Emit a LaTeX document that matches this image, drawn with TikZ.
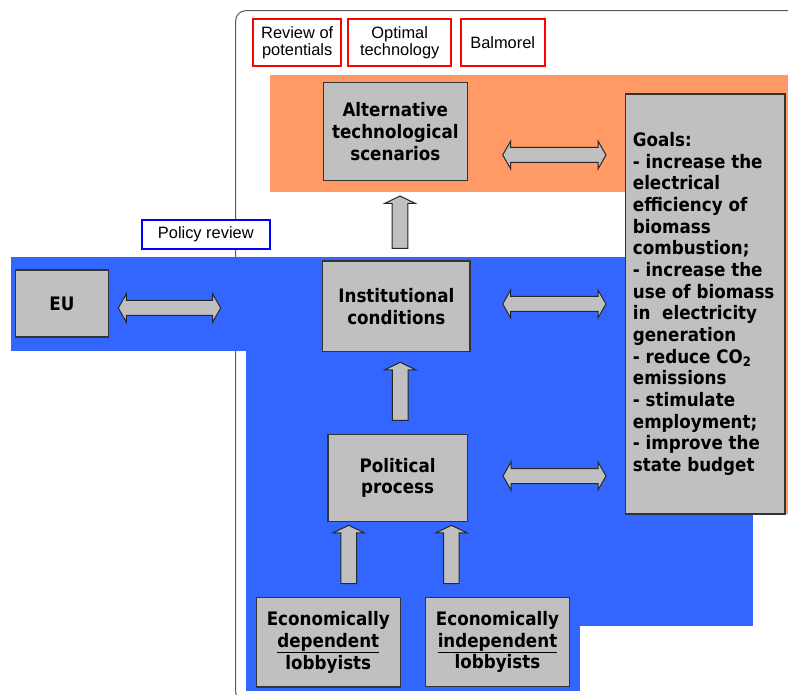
\documentclass[tikz,border=0pt]{standalone}
\usepackage{fontspec}
\setmainfont{Liberation Sans}
\newfontfamily\boxfont[FakeStretch=0.9]{DejaVu Sans}
\usetikzlibrary{calc}

\definecolor{regionblue}{HTML}{3366FF}
\definecolor{regionorange}{HTML}{FF9966}
\definecolor{boxgray}{HTML}{C0C0C0}
\definecolor{toolred}{HTML}{FF0000}
\definecolor{toolblue}{HTML}{0000FF}

% horizontal two-headed block arrow between two points on one line
\newcommand\blockboth[2]{%
  \path[blockarrow] let \p1=(#1), \p2=(#2) in
    (\x1,\y1) -- (\x1+8pt,\y1+14pt) -- (\x1+8pt,\y1+7.5pt) -- (\x2-8pt,\y1+7.5pt)
    -- (\x2-8pt,\y1+14pt) -- (\x2,\y1) -- (\x2-8pt,\y1-14pt) -- (\x2-8pt,\y1-7.5pt)
    -- (\x1+8pt,\y1-7.5pt) -- (\x1+8pt,\y1-14pt) -- cycle;}
% upward block arrow from a base point to a tip point
\newcommand\blockup[2]{%
  \path[blockarrow] let \p1=(#1), \p2=(#2) in
    (\x2,\y2) -- (\x2+15.5pt,\y2-7.5pt) -- (\x2+7.8pt,\y2-7.5pt) -- (\x2+7.8pt,\y1)
    -- (\x2-7.8pt,\y1) -- (\x2-7.8pt,\y2-7.5pt) -- (\x2-15.5pt,\y2-7.5pt) -- cycle;}

\begin{document}
\begin{tikzpicture}[x=1pt,y=-1pt,
  gbox/.style={draw=black!80, line width=1.1pt, fill=boxgray, inner sep=0pt, outer sep=0pt,
    align=center, font=\boxfont\bfseries\fontsize{18.6}{21.6}\selectfont},
  goalstext/.style={inner sep=0pt, align=left,
    font=\boxfont\bfseries\fontsize{18.6}{21.65}\selectfont},
  toolbox/.style={draw=toolred, line width=2pt, fill=white, inner sep=0pt, align=center,
    font=\fontsize{16.4}{16.8}\selectfont},
  reviewbox/.style={draw=toolblue, line width=2pt, fill=white, inner sep=0pt, align=center,
    font=\fontsize{16.4}{16.8}\selectfont},
  blockarrow/.style={draw=black!85, line width=1pt, fill=boxgray, line join=miter},
  frame/.style={draw=black!65, line width=1pt, rounded corners=10pt}]

\useasboundingbox (0,0) rectangle (788,695);

% outer frame
\begin{scope}
  \clip (0,0) rectangle (788,695);
  \draw[frame] (235.7,10.7) rectangle (830,702);
\end{scope}

% orange band (technology level)
\fill[regionorange] (270,75) rectangle (788,191.7);
% blue band (policy level)
\fill[regionblue] (11,257) rectangle (700,350.7);
\fill[regionblue] (246,257) rectangle (753,625.7);
\fill[regionblue] (246,620) rectangle (580,690.7);
% orange strip behind the goals box
\fill[regionorange] (700,75) rectangle (788,514);

% tool labels
\node[toolbox, minimum width=87.7, minimum height=46.7] (potentials) at (297.2,42.7) {Review of\\potentials};
\node[toolbox, minimum width=102.7, minimum height=46.7] (opttech) at (399.7,42.7) {Optimal\\technology};
\node[toolbox, minimum width=84, minimum height=46.7] (balmorel) at (502.7,42.7) {Balmorel};
\node[reviewbox, minimum width=128.3, minimum height=28.7] (policy) at (205.8,234.4) {Policy review};

% main boxes
\node[gbox, minimum width=144, minimum height=97.6] (alt) at (395.3,131.5) {Alternative\\technological\\scenarios};
\node[gbox, minimum width=147.3, minimum height=90.7] (inst) at (396.35,306.35) {Institutional\\conditions};
\node[gbox, minimum width=139.3, minimum height=87] (pol) at (397.65,477.8) {Political\\process};
\node[gbox, minimum width=144, minimum height=89.3] (dep) at (328.3,642.35) {Economically\\\underline{dependent}\\lobbyists};
\node[gbox, minimum width=144.4, minimum height=89.4] (indep) at (497.5,642) {Economically\\\underline{independent}\\lobbyists};
\node[gbox, minimum width=92.6, minimum height=67] (eu) at (62,303.5) {EU};
\node[gbox, minimum width=159.7, minimum height=420] (goals) at (705.15,304) {};
\node[goalstext, anchor=west] (goalslabel) at ($(goals.west)+(7.4,0)$) {Goals:\\
- increase the\\electrical\\efficiency of\\biomass\\combustion;\\
- increase the\\use of biomass\\in~~electricity\\generation\\
- reduce CO\textsubscript{2}\\emissions\\- stimulate\\employment;\\
- improve the\\state budget};

% arrow end points
\coordinate (altE) at (502.7,155);   \coordinate (goalsA) at (606,155);
\coordinate (instE) at (502.7,304);  \coordinate (goalsI) at (606,304);
\coordinate (polE) at (503,476);     \coordinate (goalsP) at (606,476);
\coordinate (euE) at (118.3,308);    \coordinate (instW) at (220.7,308);
\coordinate (instUp) at (400,248.3); \coordinate (altDown) at (400,196);
\coordinate (polUp) at (400.2,420.3); \coordinate (instDown) at (400.2,362.3);
\coordinate (depUp) at (348.7,583.7); \coordinate (polDownL) at (348.7,525.3);
\coordinate (indepUp) at (451.4,583.7); \coordinate (polDownR) at (451.4,525.3);

% two-headed arrows
\blockboth{altE}{goalsA}
\blockboth{instE}{goalsI}
\blockboth{polE}{goalsP}
\blockboth{euE}{instW}

% upward arrows
\blockup{instUp}{altDown}
\blockup{polUp}{instDown}
\blockup{depUp}{polDownL}
\blockup{indepUp}{polDownR}

\end{tikzpicture}
\end{document}
